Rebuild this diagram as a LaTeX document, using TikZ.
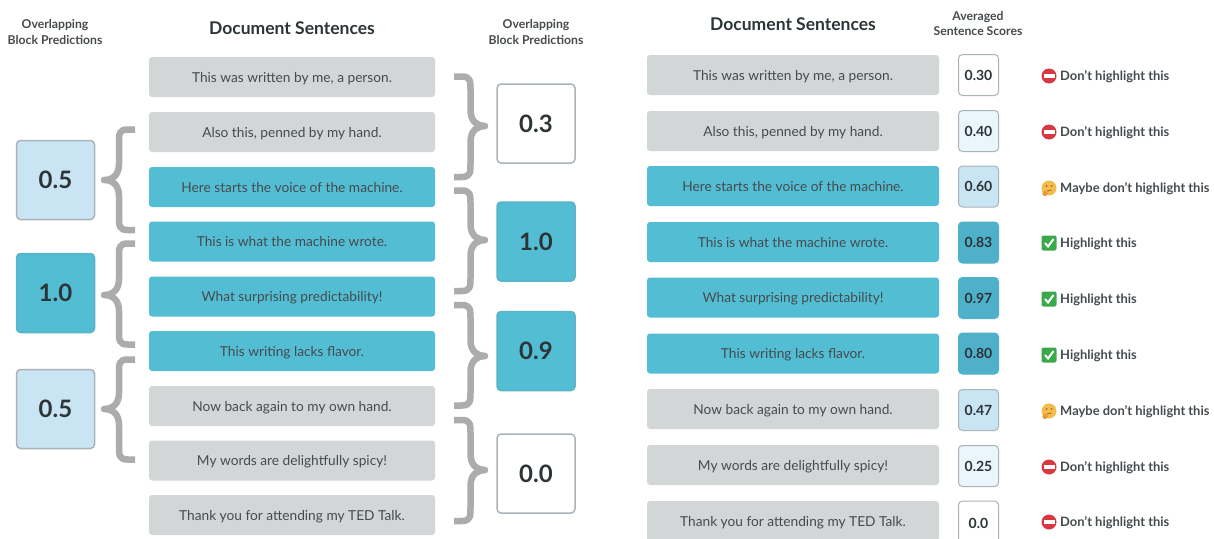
\documentclass[tikz,border=0pt]{standalone}
\usepackage{fontspec}
\setmainfont{Lato}
\usetikzlibrary{calc}
\definecolor{teal1}{HTML}{53BDD3}
\definecolor{teal2}{HTML}{4FB0C9}
\definecolor{pale}{HTML}{C9E4F3}
\definecolor{paler}{HTML}{EAF6FC}
\definecolor{sgray}{HTML}{D2D6D7}
\definecolor{edge}{HTML}{A9B3B8}
\definecolor{brc}{HTML}{ABACAD}
\definecolor{txt}{HTML}{454B4E}
\definecolor{dark}{HTML}{2D3438}
\definecolor{noentry}{HTML}{D8383F}
\definecolor{okgreen}{HTML}{3BA84C}
\definecolor{facey}{HTML}{F3BC4C}
\definecolor{faced}{HTML}{A8651B}
\definecolor{faceh}{HTML}{E89A2E}
\tikzset{
  sent/.style={rectangle,rounded corners=3pt,draw=none,inner sep=0pt,text=txt,text height=10pt,text depth=0pt,font=\fontsize{13.7}{16}\selectfont,align=center},
  grayrow/.style={sent,fill=sgray},
  tealrow/.style={sent,fill=teal1},
  block/.style={rectangle,rounded corners=4pt,inner sep=0pt,minimum width=78pt,minimum height=79pt,line width=1.5pt,draw=edge,text=dark,font=\fontsize{24}{28}\selectfont\bfseries},
  score/.style={rectangle,rounded corners=4pt,inner sep=0pt,minimum width=40pt,minimum height=41pt,line width=1pt,draw=edge,text=dark,font=\fontsize{14}{18}\selectfont\bfseries},
  head/.style={inner sep=0pt,text=txt,align=center,font=\fontsize{12.2}{15.5}\selectfont\bfseries},
  bighead/.style={inner sep=0pt,text=dark,font=\fontsize{17.5}{20}\selectfont\bfseries},
  verdict/.style={inner sep=0pt,anchor=west,text=txt,font=\fontsize{12.9}{15}\selectfont\bfseries},
  brc/.style={draw=brc,line width=6.5pt,line join=round},
}
% brace: #1 arm x, #2 spine x, #3 tip x, #4 top, #5 mid, #6 bottom
\newcommand{\BraceShape}[6]{%
  \draw[brc] (#1,#4) -- ({#1+0.45*(#2-#1)},#4)
    .. controls (#2,#4) and (#2,{#4+4}) .. (#2,{#4+14})
    -- (#2,{#5-16}) .. controls (#2,{#5-4}) and ({#2+0.5*(#3-#2)},#5) .. (#3,#5)
    .. controls ({#2+0.5*(#3-#2)},#5) and (#2,{#5+4}) .. (#2,{#5+16})
    -- (#2,{#6-14}) .. controls (#2,{#6-4}) and (#2,#6) .. ({#1+0.45*(#2-#1)},#6) -- (#1,#6);}
\newcommand{\NoEntry}[1]{%
  \fill[noentry] (#1) circle (7.5pt);
  \fill[white] ($(#1)+(-5.5,-1.7)$) rectangle ($(#1)+(5.5,1.7)$);}
\newcommand{\CheckMark}[1]{%
  \fill[okgreen,rounded corners=2pt] ($(#1)+(-7.5,-7.5)$) rectangle ($(#1)+(7.5,7.5)$);
  \draw[white,line width=2pt] ($(#1)+(-4,0)$) -- ($(#1)+(-1,3.5)$) -- ($(#1)+(4.5,-4)$);}
\newcommand{\Thinker}[1]{%
  \fill[facey] (#1) circle (7.5pt);
  \fill[faced] ($(#1)+(-2.5,-2)$) circle (1pt) ($(#1)+(2.5,-2)$) circle (1pt);
  \draw[faced,line width=.8pt] ($(#1)+(-2,3)$) -- ($(#1)+(2.5,2)$);
  \fill[faceh] ($(#1)+(-4,5.5)$) circle (2.6pt);}
\begin{document}
\begin{tikzpicture}[x=1pt,y=-1pt]
\useasboundingbox (0,0) rectangle (1214,538);
\clip (0,0) rectangle (1214,538);
\fill[white] (0,0) rectangle (1214,538);

\node[head] (h1) at (55,32) {Overlapping\\Block Predictions};
\node[bighead] (h2) at (292,28) {Document Sentences};
\node[head] (h3) at (536,32) {Overlapping\\Block Predictions};
\node[bighead] (h4) at (793,24) {Document Sentences};
\node[head] (h5) at (978,23.5) {Averaged\\Sentence Scores};

% left sentences
\foreach \nm/\yc/\st/\tx in {
 a/77/grayrow/{This was written by me, a person.},
 b/132/grayrow/{Also this, penned by my hand.},
 c/187/tealrow/{Here starts the voice of the machine.},
 d/241.5/tealrow/{This is what the machine wrote.},
 e/296.5/tealrow/{What surprising predictability!},
 f/351/tealrow/{This writing lacks flavor.},
 g/406/grayrow/{Now back again to my own hand.},
 h/460.5/grayrow/{My words are delightfully spicy!},
 i/515/grayrow/{Thank you for attending my TED Talk.}}
 {\node[\st,minimum width=286pt,minimum height=40pt] (l\nm) at (292,\yc) {\tx};}

% right sentences
\foreach \nm/\yc/\st/\tx in {
 a/75/grayrow/{This was written by me, a person.},
 b/131/grayrow/{Also this, penned by my hand.},
 c/186/tealrow/{Here starts the voice of the machine.},
 d/242/tealrow/{This is what the machine wrote.},
 e/297.5/tealrow/{What surprising predictability!},
 f/353.5/tealrow/{This writing lacks flavor.},
 g/409/grayrow/{Now back again to my own hand.},
 h/465/grayrow/{My words are delightfully spicy!},
 i/521/grayrow/{Thank you for attending my TED Talk.}}
 {\node[\st,minimum width=292pt,minimum height=40pt] (r\nm) at (793,\yc) {\tx};}

% left blocks
\node[block,fill=pale] (bl1) at (55.5,180) {0.5};
\node[block,fill=teal1,draw=teal1!85!gray] (bl2) at (55.5,293) {1.0};
\node[block,fill=pale] (bl3) at (55.5,409) {0.5};
% middle blocks
\node[block,fill=white] (bm1) at (536,123.5) {0.3};
\node[block,fill=teal1,draw=teal1!85!gray] (bm2) at (536,241.5) {1.0};
\node[block,fill=teal1,draw=teal1!85!gray] (bm3) at (536,351) {0.9};
\node[block,fill=white] (bm4) at (536,473.5) {0.0};

% braces
\BraceShape{135}{119}{104}{129.5}{180}{230}
\BraceShape{135}{119}{104}{243.5}{295}{344.5}
\BraceShape{135}{119}{104}{359.5}{409}{459.5}
\BraceShape{454}{470.5}{485}{76.5}{126}{177}
\BraceShape{454}{470.5}{485}{190.5}{240}{291}
\BraceShape{454}{470.5}{485}{305}{356}{405.5}
\BraceShape{454}{470.5}{485}{420}{470}{521}

% scores
\node[score,fill=white] (s1) at (978.5,75) {0.30};
\node[score,fill=paler] (s2) at (978.5,131) {0.40};
\node[score,fill=pale] (s3) at (978.5,186.5) {0.60};
\node[score,fill=teal2,draw=teal2] (s4) at (978.5,242.5) {0.83};
\node[score,fill=teal2,draw=teal2] (s5) at (978.5,298) {0.97};
\node[score,fill=teal2,draw=teal2] (s6) at (978.5,353.5) {0.80};
\node[score,fill=pale] (s7) at (978.5,410) {0.47};
\node[score,fill=paler] (s8) at (978.5,466) {0.25};
\node[score,fill=white,minimum height=44pt] (s9) at (978.5,523) {0.0};

% verdicts
\foreach \n/\yc/\tx in {1/76/Don't highlight this,2/132/Don't highlight this,3/188/Maybe don't highlight this,4/243/Highlight this,5/299/Highlight this,6/355/Highlight this,7/411/Maybe don't highlight this,8/467/Don't highlight this,9/522/Don't highlight this}
 {\node[verdict,text height=9.5pt,text depth=0pt] (v\n) at (1060,\yc) {\tx};
  \coordinate (ic\n) at (1049,\yc);}
\NoEntry{ic1}\NoEntry{ic2}\Thinker{ic3}\CheckMark{ic4}\CheckMark{ic5}\CheckMark{ic6}\Thinker{ic7}\NoEntry{ic8}\NoEntry{ic9}
\end{tikzpicture}
\end{document}
